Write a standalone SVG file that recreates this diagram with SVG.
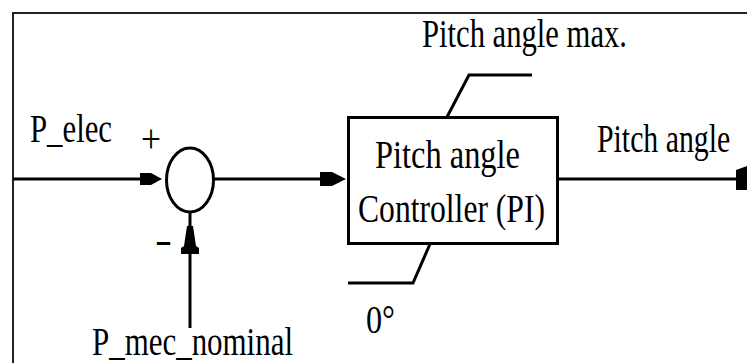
<svg xmlns="http://www.w3.org/2000/svg" width="747" height="363" viewBox="0 0 747 363">
<style>
.ln{fill:none;stroke:#000;stroke-width:3;stroke-linecap:butt;stroke-linejoin:miter}
.ah{fill:#000;stroke:none}
text{font-family:'Liberation Serif','Times New Roman',serif;font-size:40px;fill:#000}
</style>
<rect x="0" y="0" width="747" height="363" fill="#fff"/>
<g id="frame">
<path d="M13 363 V13 H747" fill="none" stroke="#222" stroke-width="2"/>
</g>
<g id="sum">
<ellipse cx="190" cy="180" rx="23.5" ry="32" class="ln"/>
<text x="141" y="152" font-size="46" textLength="20" lengthAdjust="spacingAndGlyphs">+</text>
<text x="155" y="253" font-size="40" textLength="17" lengthAdjust="spacingAndGlyphs">-</text>
</g>
<g id="controller">
<rect x="348.5" y="117.5" width="209" height="126" fill="#fff" class="ln"/>
<text x="375" y="168" textLength="145" lengthAdjust="spacingAndGlyphs">Pitch angle</text>
<text x="358" y="222" textLength="187" lengthAdjust="spacingAndGlyphs">Controller (PI)</text>
</g>
<g id="limit-max">
<path class="ln" d="M447 117 L469 75 H532"/>
<text x="422" y="47" textLength="205" lengthAdjust="spacingAndGlyphs">Pitch angle max.</text>
</g>
<g id="limit-min">
<path class="ln" d="M430 244 L413 283 H348"/>
<text x="366" y="333" textLength="29" lengthAdjust="spacingAndGlyphs">0°</text>
</g>
<g id="connectors">
<path class="ln" d="M13 179 H142"/>
<polygon class="ah" points="140,173 151,173 162,179 151,185 140,185"/>
<path class="ln" d="M213.5 179 H322"/>
<polygon class="ah" points="320,172 332,172 346,179 332,186 320,186"/>
<path class="ln" d="M190 328 V253"/>
<polygon class="ah" points="187,226 193,226 196,246 199,248 199,254 181,254 181,248 184,246"/>
<path class="ln" d="M190 226 V212"/>
<path class="ln" d="M558 179 H738"/>
<polygon class="ah" points="736,170 747,166 747,190 736,190"/>
</g>
<g id="labels">
<text x="30" y="142" textLength="82" lengthAdjust="spacingAndGlyphs">P_elec</text>
<text x="92" y="355" textLength="201" lengthAdjust="spacingAndGlyphs">P_mec_nominal</text>
<text transform="translate(597 152) scale(0.745 1)" x="0" y="0">Pitch angle</text>
</g>
</svg>
